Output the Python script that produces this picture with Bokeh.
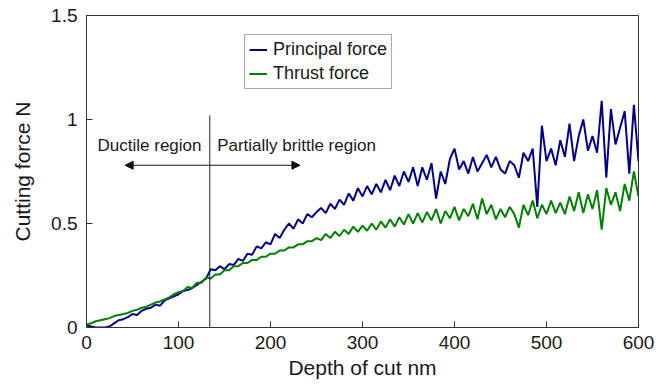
from bokeh.plotting import figure
from bokeh.models import (Range1d, FixedTicker, NumeralTickFormatter, Legend, LegendItem,
                          Arrow, NormalHead, Label, ColumnDataSource)
from bokeh.embed import file_html
from bokeh.resources import INLINE

# ---- data ----
depth_nm = list(range(0, 601, 5))

principal_force = [
    0.010, 0.005, 0.000, 0.000, 0.000, 0.005, 0.020, 0.035, 0.040, 0.050,
    0.065, 0.060, 0.080, 0.090, 0.095, 0.110, 0.105, 0.130, 0.140, 0.150,
    0.160, 0.175, 0.180, 0.190, 0.205, 0.220, 0.235, 0.280, 0.275, 0.295,
    0.280, 0.305, 0.300, 0.330, 0.320, 0.355, 0.350, 0.390, 0.380, 0.410,
    0.400, 0.450, 0.430, 0.470, 0.500, 0.475, 0.520, 0.500, 0.545, 0.530,
    0.555, 0.575, 0.550, 0.595, 0.570, 0.615, 0.590, 0.645, 0.610, 0.670,
    0.630, 0.680, 0.640, 0.690, 0.650, 0.710, 0.660, 0.730, 0.680, 0.750,
    0.700, 0.770, 0.680, 0.770, 0.710, 0.790, 0.620, 0.750, 0.690, 0.810,
    0.860, 0.760, 0.800, 0.740, 0.820, 0.750, 0.790, 0.830, 0.770, 0.820,
    0.760, 0.740, 0.800, 0.780, 0.720, 0.840, 0.800, 0.860, 0.580, 0.970,
    0.800, 0.860, 0.780, 0.900, 0.820, 0.980, 0.800, 0.920, 1.000, 0.850,
    0.920, 0.840, 1.090, 0.720, 1.050, 0.880, 0.960, 1.040, 0.740, 1.070,
    0.800,
]

thrust_force = [
    0.015, 0.020, 0.030, 0.035, 0.040, 0.045, 0.055, 0.060, 0.065, 0.070,
    0.080, 0.085, 0.095, 0.100, 0.110, 0.120, 0.125, 0.135, 0.145, 0.160,
    0.170, 0.175, 0.195, 0.190, 0.215, 0.215, 0.240, 0.235, 0.255, 0.255,
    0.275, 0.275, 0.295, 0.295, 0.310, 0.310, 0.325, 0.325, 0.340, 0.340,
    0.355, 0.355, 0.370, 0.370, 0.385, 0.385, 0.400, 0.400, 0.415, 0.415,
    0.430, 0.420, 0.450, 0.430, 0.460, 0.440, 0.470, 0.450, 0.485, 0.460,
    0.490, 0.465, 0.500, 0.470, 0.510, 0.480, 0.520, 0.485, 0.530, 0.495,
    0.545, 0.500, 0.550, 0.505, 0.555, 0.515, 0.570, 0.500, 0.560, 0.525,
    0.580, 0.515, 0.570, 0.535, 0.595, 0.520, 0.620, 0.545, 0.590, 0.520,
    0.570, 0.530, 0.580, 0.545, 0.480, 0.590, 0.540, 0.610, 0.525, 0.590,
    0.545, 0.610, 0.550, 0.600, 0.545, 0.630, 0.560, 0.650, 0.550, 0.640,
    0.570, 0.660, 0.470, 0.670, 0.590, 0.650, 0.560, 0.690, 0.610, 0.750,
    0.630,
]

x_ticks = [0, 100, 200, 300, 400, 500, 600]
y_ticks = [0, 0.5, 1, 1.5]
transition_depth = 134

FONT = "Liberation Sans"
TXT = "#1a1a1a"

p = figure(width=667, height=389, output_backend="svg", toolbar_location=None,
           x_range=Range1d(0, 600), y_range=Range1d(0, 1.5),
           min_border_left=86, min_border_right=29, min_border_top=15, min_border_bottom=62)
p.background_fill_color = "white"
p.border_fill_color = "white"
p.outline_line_color = "#333333"
p.outline_line_width = 1
p.xgrid.visible = False
p.ygrid.visible = False

for ax in (p.xaxis[0], p.yaxis[0]):
    ax.axis_line_color = "#333333"
    ax.major_tick_line_color = "#333333"
    ax.major_tick_in = 6
    ax.major_tick_out = 0
    ax.minor_tick_line_color = None
    ax.major_label_text_font = FONT
    ax.major_label_text_font_size = "19px"
    ax.major_label_text_color = TXT
    ax.axis_label_text_font = FONT
    ax.axis_label_text_font_size = "21px"
    ax.axis_label_text_font_style = "normal"
    ax.axis_label_text_color = TXT

p.xaxis.ticker = FixedTicker(ticks=x_ticks)
p.yaxis.ticker = FixedTicker(ticks=y_ticks)
p.yaxis.formatter = NumeralTickFormatter(format="0.[0]")
p.xaxis.axis_label = "Depth of cut nm"
p.yaxis.axis_label = "Cutting force N"
p.xaxis.major_label_standoff = 8
p.yaxis.major_label_standoff = 9
p.xaxis.axis_label_standoff = 4
p.yaxis.axis_label_standoff = 14

src = ColumnDataSource(dict(x=depth_nm, pf=principal_force, tf=thrust_force))
r1 = p.line("x", "pf", source=src, line_color="#00008b", line_width=2)
r2 = p.line("x", "tf", source=src, line_color="#008000", line_width=2)

# transition line
p.segment(x0=[transition_depth], y0=[0], x1=[transition_depth], y1=[1.02],
          line_color="#222222", line_width=1)

arrow = Arrow(start=NormalHead(size=8, fill_color="#111111", line_color="#111111"),
              end=NormalHead(size=8, fill_color="#111111", line_color="#111111"),
              x_start=42, y_start=0.78, x_end=232, y_end=0.78,
              line_color="#111111", line_width=1)
p.add_layout(arrow)

p.add_layout(Label(x=12, y=0.874, text="Ductile region", text_baseline="middle",
                   text_font=FONT, text_font_size="17px", text_color=TXT))
p.add_layout(Label(x=142, y=0.874, text="Partially brittle region", text_baseline="middle",
                   text_font=FONT, text_font_size="17px", text_color=TXT))

legend = Legend(items=[LegendItem(label="Principal force", renderers=[r1]),
                       LegendItem(label="Thrust force", renderers=[r2])],
                location=(158, 238))
legend.label_text_font = FONT
legend.label_text_font_size = "18px"
legend.label_text_color = TXT
legend.border_line_color = "#555555"
legend.border_line_width = 1
legend.background_fill_color = "white"
legend.background_fill_alpha = 1
legend.padding = 4
legend.spacing = 3
legend.margin = 0
legend.glyph_width = 18
legend.glyph_height = 21
legend.label_height = 21
legend.label_standoff = 6
p.add_layout(legend)

open("out.html", "w").write(file_html(p, INLINE))
